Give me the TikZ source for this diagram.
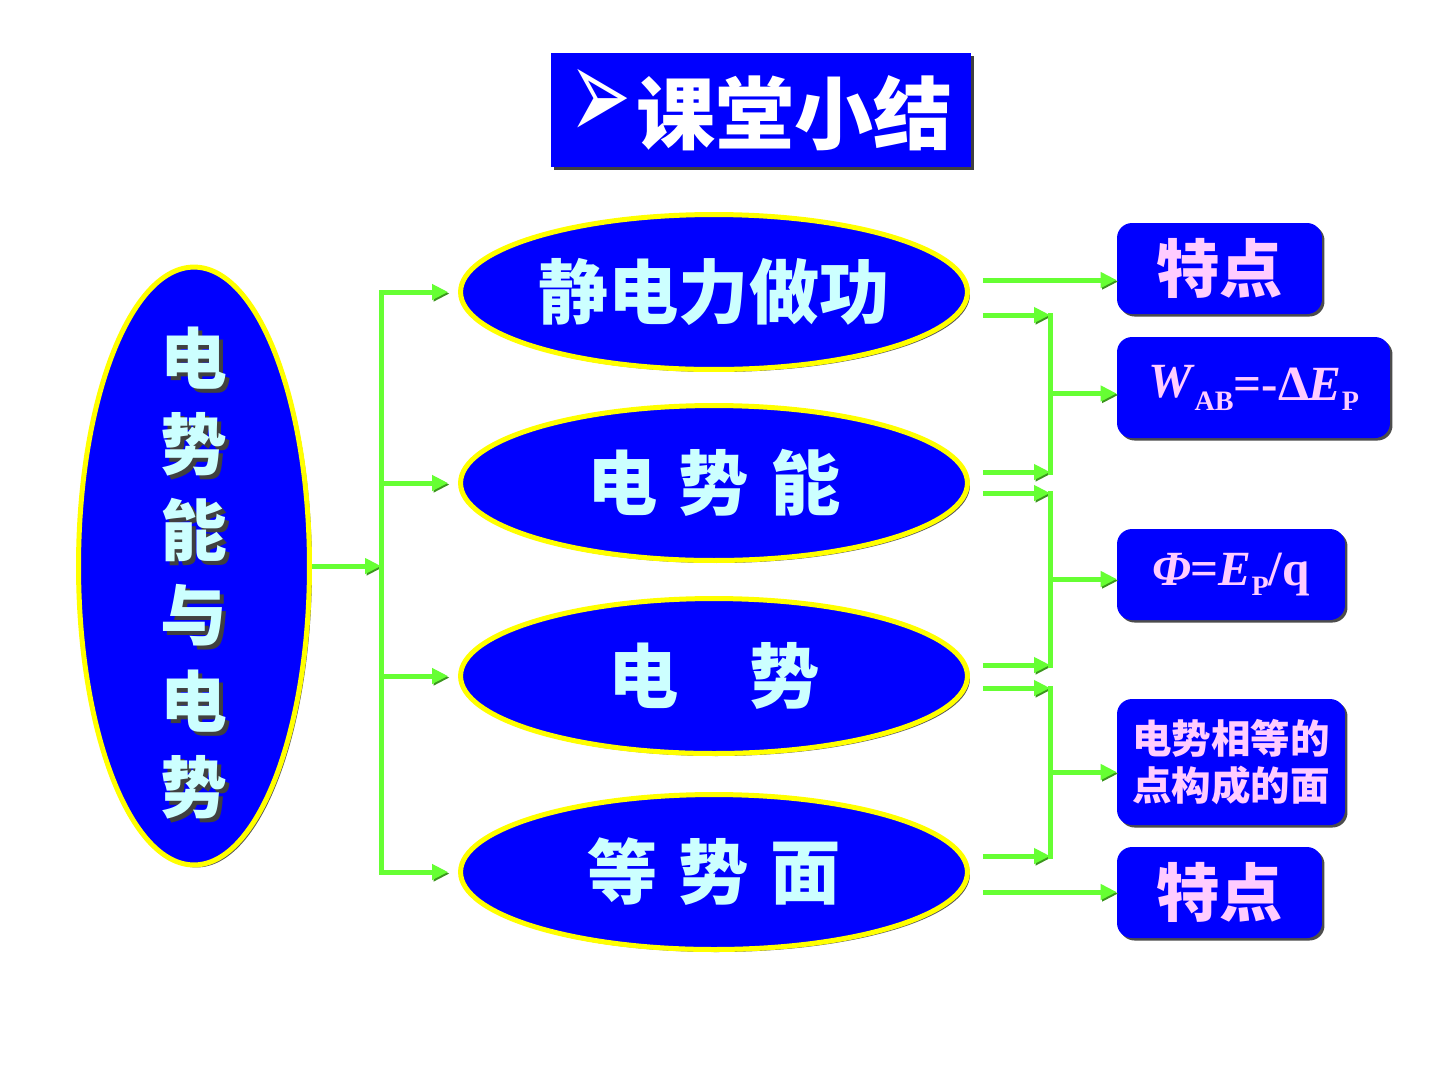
\documentclass[tikz,border=0pt]{standalone}
\usepackage{fontspec}
\usepackage{graphicx}
\setmainfont{Liberation Serif}
\newfontfamily\cjk{Noto Sans CJK SC}
\newfontfamily\dingfont{DejaVu Sans}
\usetikzlibrary{shapes.geometric,arrows.meta,calc,shadows}

\definecolor{slideblue}{RGB}{0,0,255}
\definecolor{rimyellow}{RGB}{255,255,0}
\definecolor{linkgreen}{RGB}{102,255,51}
\definecolor{linkshade}{RGB}{60,150,30}
\definecolor{palecyan}{RGB}{204,255,255}
\definecolor{palepink}{RGB}{255,204,255}

% glyph with a dark copy behind it
\newcommand{\shadowglyph}[1]{\makebox[0pt][l]{\hspace{0.08cm}\raisebox{-0.08cm}{\textcolor{black!75}{#1}}}#1}

\begin{document}
\begin{tikzpicture}[x=0.02cm,y=-0.02cm,
    bubble/.style={ellipse, fill=slideblue, draw=rimyellow, line width=0.1cm, inner sep=0pt,
        text=palecyan, font=\cjk\bfseries\fontsize{40}{48}\selectfont,
        drop shadow={shadow xshift=0.05cm, shadow yshift=-0.05cm, fill=black!65, opacity=1}},
    tag/.style={rectangle, rounded corners=0.3cm, fill=slideblue, inner sep=0pt, text=palepink,
        drop shadow={shadow xshift=0.05cm, shadow yshift=-0.05cm, fill=black!70, opacity=1}},
    link/.style={draw=linkgreen, line width=0.1cm, -{Triangle[length=0.32cm,width=0.3cm]},
        preaction={draw=linkshade, transform canvas={shift={(0.03cm,-0.03cm)}}}},
    bar/.style={draw=linkgreen, line width=0.1cm, line cap=rect,
        preaction={draw=linkshade, transform canvas={shift={(0.03cm,-0.03cm)}}}}]

    % Page frame
    \useasboundingbox[fill=white] (0,0) rectangle (1440,1080);

    % Title
    \node[rectangle, fill=slideblue, minimum width=8.42cm, minimum height=2.3cm, inner sep=0pt,
        text=white, font=\cjk\bfseries\fontsize{45}{50}\selectfont,
        drop shadow={shadow xshift=0.06cm, shadow yshift=-0.06cm, fill=black!75, opacity=1}]
        (title) at (761,110)
        {\raisebox{0.05cm}{\dingfont\fontsize{40}{50}\selectfont\scalebox{1.05}[1.9]{➢}}\hspace{0.1cm}课堂小结};

    % Main topic (vertical text with a dark shadow)
    \node[bubble, minimum width=4.62cm, minimum height=11.96cm] (whole) at (194,566) {};
    \node[align=center, text=palecyan, font=\cjk\bfseries\fontsize{38}{48.8}\selectfont]
        (wholetext) at (whole.center) [yshift=-0.18cm]
        {\shadowglyph{电}\\\shadowglyph{势}\\\shadowglyph{能}\\\shadowglyph{与}\\\shadowglyph{电}\\\shadowglyph{势}};

    % Four sub topics
    \node[bubble, minimum width=10.14cm, minimum height=3.1cm] (work) at (714,292) {静电力做功};
    \node[bubble, minimum width=10.14cm, minimum height=3.1cm] (pot)  at (714,483) {电\hspace{0.3em}势\hspace{0.3em}能};
    \node[bubble, minimum width=10.14cm, minimum height=3.1cm] (volt) at (714,676) {电\hspace{1em}势};
    \node[bubble, minimum width=10.14cm, minimum height=3.1cm] (face) at (714,872) {等\hspace{0.3em}势\hspace{0.3em}面};

    % Result boxes
    \node[tag, minimum width=4.1cm, minimum height=1.82cm, font=\cjk\bfseries\fontsize{36}{40}\selectfont]
        (spot1) at (1219.5,268.5) {特点};
    \node[tag, minimum width=5.46cm, minimum height=2.02cm, font=\bfseries\fontsize{28}{32}\selectfont]
        (wab) at (1253.5,387.5)
        {\raisebox{0.06cm}{\textit{W}}\raisebox{-0.2cm}{\fontsize{16}{18}\selectfont AB}=-Δ\textit{E}\raisebox{-0.2cm}{\fontsize{16}{18}\selectfont P}};
    \node[tag, minimum width=4.56cm, minimum height=1.82cm, font=\bfseries\fontsize{28}{32}\selectfont]
        (phi) at (1231,574.5)
        {\raisebox{-0.05cm}{\textit{Φ}=\textit{E}\raisebox{-0.2cm}{\fontsize{16}{18}\selectfont P}/q}};
    \node[tag, minimum width=4.56cm, minimum height=2.52cm, align=center,
        font=\cjk\bfseries\fontsize{22.5}{26.6}\selectfont]
        (same) at (1231,762) {电势相等的\\点构成的面};
    \node[tag, minimum width=4.1cm, minimum height=1.82cm, font=\cjk\bfseries\fontsize{36}{40}\selectfont]
        (spot2) at (1219.5,892.5) {特点};

    % Left fork
    \coordinate (fork) at (381,566);
    \draw[link] (whole.east) -- (fork);
    \draw[bar] (fork |- work.west) -- (fork |- face.west);
    \foreach \t in {work,pot,volt,face}
        \draw[link, shorten >=0.2cm] (fork |- \t.west) -- (\t.west);

    % Right side coordinates
    \coordinate (rail) at (1050,0);
    \coordinate (w1) at ([shift={(13,-12)}]work.east);
    \coordinate (w2) at ([shift={(13,23)}]work.east);
    \coordinate (p1) at ([shift={(13,-11)}]pot.east);
    \coordinate (p2) at ([shift={(13,10)}]pot.east);
    \coordinate (v1) at ([shift={(13,-11)}]volt.east);
    \coordinate (v2) at ([shift={(13,12)}]volt.east);
    \coordinate (f1) at ([shift={(13,-16)}]face.east);
    \coordinate (f2) at ([shift={(13,20)}]face.east);

    % Straight arrows to the two boxes
    \draw[link] (w1) -- (w1 -| spot1.west);
    \draw[link] (f2) -- (f2 -| spot2.west);

    % Three brackets
    \draw[link] (w2) -- (w2 -| rail);
    \draw[link] (p1) -- (p1 -| rail);
    \draw[bar] (w2 -| rail) -- (p1 -| rail);
    \coordinate (m1) at ($(w2 -| rail)!0.5!(p1 -| rail)$);
    \draw[link] (m1) -- (m1 -| wab.west);

    \draw[link] (p2) -- (p2 -| rail);
    \draw[link] (v1) -- (v1 -| rail);
    \draw[bar] (p2 -| rail) -- (v1 -| rail);
    \coordinate (m2) at ($(p2 -| rail)!0.5!(v1 -| rail)$);
    \draw[link] (m2) -- (m2 -| phi.west);

    \draw[link] (v2) -- (v2 -| rail);
    \draw[link] (f1) -- (f1 -| rail);
    \draw[bar] (v2 -| rail) -- (f1 -| rail);
    \coordinate (m3) at ($(v2 -| rail)!0.5!(f1 -| rail)$);
    \draw[link] (m3) -- (m3 -| same.west);

\end{tikzpicture}
\end{document}
